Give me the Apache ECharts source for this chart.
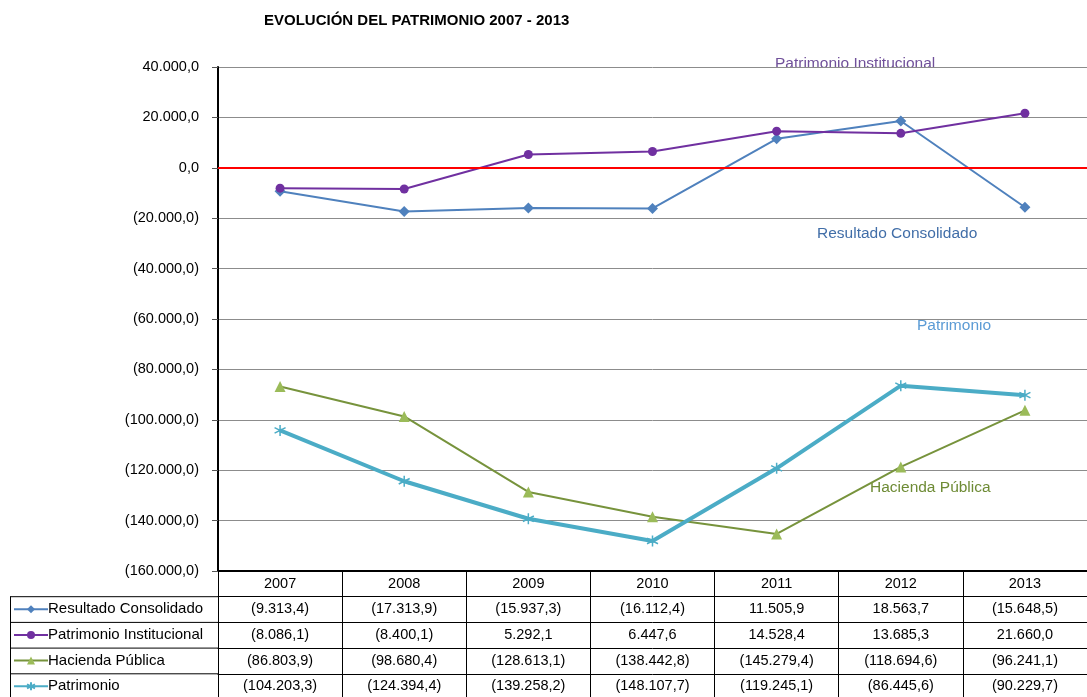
<!DOCTYPE html>
<html>
<head>
<meta charset="utf-8">
<script src="https://cdn.jsdelivr.net/npm/echarts@6/dist/echarts.min.js"></script>
<style>
  html, body { margin: 0; padding: 0; background: #fff; }
  #chart { width: 1087px; height: 697px; }
</style>
</head>
<body>
<div id="chart"></div>
<script>
const years = ['2007', '2008', '2009', '2010', '2011', '2012', '2013']
const resultadoConsolidado = [-9313.4, -17313.9, -15937.3, -16112.4, 11505.9, 18563.7, -15648.5]
const patrimonioInstitucional = [-8086.1, -8400.1, 5292.1, 6447.6, 14528.4, 13685.3, 21660.0]
const haciendaPublica = [-86803.9, -98680.4, -128613.1, -138442.8, -145279.4, -118694.6, -96241.1]
const patrimonio = [-104203.3, -124394.4, -139258.2, -148107.7, -119245.1, -86445.6, -90229.7]
const seriesNames = ['Resultado Consolidado', 'Patrimonio Institucional', 'Hacienda Pública', 'Patrimonio']

const FONT = '"Liberation Sans", Arial, sans-serif'
const gridLeft = 218
const gridTop = 67
const gridBottomY = 571
const rowH = 25.7
const legendLeft = 10

// spanish format: 12.345,6 and negatives in brackets
const fmt = (v) => {
  const s = Math.abs(v).toFixed(1).split('.')
  const int = s[0].replace(/\B(?=(\d{3})+(?!\d))/g, '.')
  const txt = int + ',' + s[1]
  return v < 0 ? '(' + txt + ')' : txt
}

const allData = [resultadoConsolidado, patrimonioInstitucional, haciendaPublica, patrimonio]

const tableAxes = allData.map((arr, i) => ({
  type: 'category',
  position: 'bottom',
  gridIndex: 0,
  offset: rowH * (i + 1),
  data: arr.map(fmt),
  axisLine: { show: true, onZero: false, lineStyle: { color: '#000', width: 1 } },
  axisTick: { show: false },
  axisLabel: { interval: 0, margin: 5, color: '#000', fontSize: 14.5, fontFamily: FONT }
}))

// left column borders of the data table
const tableLines = []
for (let i = 1; i <= 5; i++) {
  const y = gridBottomY + rowH * i
  tableLines.push({ type: 'line', shape: { x1: legendLeft, y1: y, x2: gridLeft, y2: y }, style: { stroke: '#000', lineWidth: 1 } })
}
tableLines.push({ type: 'line', shape: { x1: legendLeft + 0.5, y1: gridBottomY + rowH, x2: legendLeft + 0.5, y2: gridBottomY + rowH * 5 }, style: { stroke: '#000', lineWidth: 1 } })

const starPath = 'path://M5,0L5,10M0.7,2.5L9.3,7.5M0.7,7.5L9.3,2.5'

const chart = echarts.init(document.getElementById('chart'))
chart.setOption({
  animation: false,
  textStyle: { fontFamily: FONT },
  title: {
    text: 'EVOLUCIÓN DEL PATRIMONIO 2007 - 2013',
    left: 259,
    top: 8,
    textStyle: { fontSize: 15, fontWeight: 'bold', color: '#000', fontFamily: FONT }
  },
  legend: {
    orient: 'vertical',
    left: legendLeft + 3,
    top: gridBottomY + rowH + 5,
    padding: 0,
    itemGap: rowH - 15,
    itemWidth: 34,
    itemHeight: 10,
    data: seriesNames,
    textStyle: { fontSize: 15, color: '#000', fontFamily: FONT, padding: [0, 0, 0, -5] }
  },
  grid: { left: gridLeft, right: 0, top: gridTop, bottom: 697 - gridBottomY },
  xAxis: [{
    type: 'category',
    data: years,
    boundaryGap: true,
    axisLine: { onZero: false, lineStyle: { color: '#000', width: 2 } },
    axisTick: { show: true, interval: 0, length: rowH * 5, lineStyle: { color: '#000', width: 1 } },
    axisLabel: { interval: 0, margin: 5, color: '#000', fontSize: 14.5, fontFamily: FONT }
  }].concat(tableAxes),
  yAxis: {
    type: 'value',
    min: -160000,
    max: 40000,
    interval: 20000,
    axisLine: { show: true, lineStyle: { color: '#000', width: 2 } },
    axisTick: { show: true, length: 6, lineStyle: { color: '#555' } },
    axisLabel: { margin: 19, color: '#000', fontSize: 14.5, fontFamily: FONT, formatter: fmt },
    splitLine: { show: true, lineStyle: { color: '#8c8c8c', width: 1 } }
  },
  graphic: tableLines.concat([
    { type: 'text', left: 775, top: 56, style: { text: 'Patrimonio Institucional', fill: '#70509a', font: '15.5px ' + FONT } },
    { type: 'text', left: 817, top: 226, style: { text: 'Resultado Consolidado', fill: '#416ea8', font: '15.5px ' + FONT } },
    { type: 'text', left: 917, top: 318, style: { text: 'Patrimonio', fill: '#5b9bd5', font: '15.5px ' + FONT } },
    { type: 'text', left: 870, top: 480, style: { text: 'Hacienda Pública', fill: '#6e8b35', font: '15.5px ' + FONT } }
  ]),
  series: [
    {
      name: seriesNames[0],
      type: 'line',
      data: resultadoConsolidado,
      symbol: 'diamond',
      symbolSize: 11,
      z: 3,
      lineStyle: { color: '#4f81bd', width: 2 },
      itemStyle: { color: '#4f81bd' },
      markLine: {
        silent: true,
        symbol: 'none',
        label: { show: false },
        lineStyle: { color: '#ff0000', width: 2, type: 'solid' },
        data: [{ yAxis: 0 }]
      }
    },
    {
      name: seriesNames[1],
      type: 'line',
      data: patrimonioInstitucional,
      symbol: 'circle',
      symbolSize: 9,
      z: 4,
      lineStyle: { color: '#7030a0', width: 2 },
      itemStyle: { color: '#7030a0' }
    },
    {
      name: seriesNames[2],
      type: 'line',
      data: haciendaPublica,
      symbol: 'triangle',
      symbolSize: 11,
      lineStyle: { color: '#77933c', width: 2 },
      itemStyle: { color: '#9bbb59' }
    },
    {
      name: seriesNames[3],
      type: 'line',
      data: patrimonio,
      symbol: starPath,
      symbolSize: 11,
      lineStyle: { color: '#4bacc6', width: 4 },
      itemStyle: { color: 'rgba(0,0,0,0)', borderColor: '#4bacc6', borderWidth: 1.5 }
    }
  ]
})
</script>
</body>
</html>
